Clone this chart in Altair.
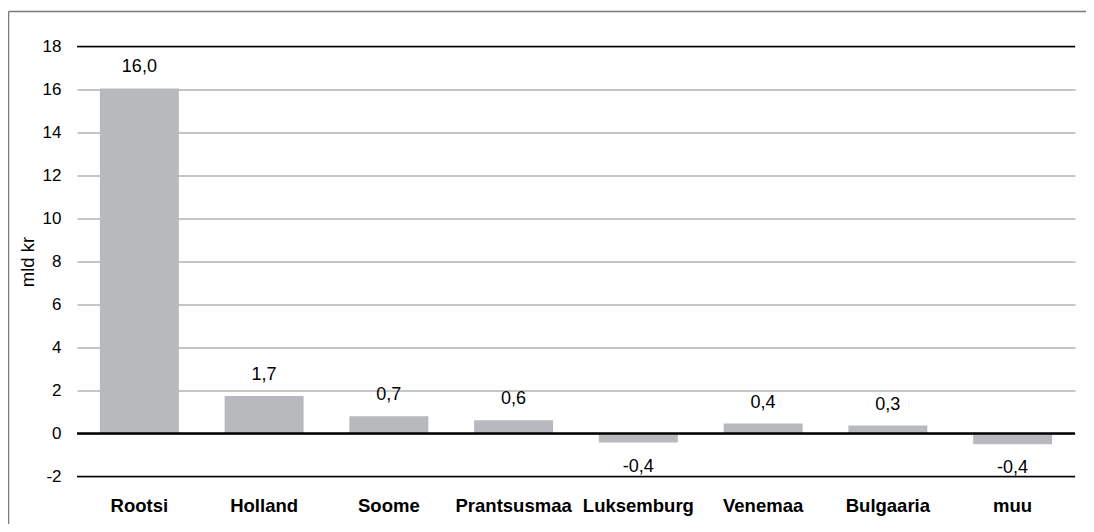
import altair as alt
import pandas as pd

countries = ["Rootsi", "Holland", "Soome", "Prantsusmaa", "Luksemburg", "Venemaa", "Bulgaaria", "muu"]
values = [16.05, 1.75, 0.8, 0.62, -0.42, 0.46, 0.37, -0.5]
labels = ["16,0", "1,7", "0,7", "0,6", "-0,4", "0,4", "0,3", "-0,4"]
y_ticks = [-2, 0, 2, 4, 6, 8, 10, 12, 14, 16, 18]
edge_lines = [-2, 18]
zero_line = [0]

df = pd.DataFrame({"country": countries, "value": values, "label": labels})

FONT = "Liberation Sans"

x_enc = alt.X(
    "country:N",
    sort=countries,
    title=None,
    scale=alt.Scale(paddingInner=0.367, paddingOuter=0.1835),
    axis=alt.Axis(
        orient="bottom",
        domain=False,
        ticks=False,
        labelAngle=0,
        labelFont=FONT,
        labelFontSize=18.5,
        labelFontWeight="bold",
        labelColor="#000000",
        labelPadding=20,
    ),
)
y_scale = alt.Scale(domain=[-2, 18], nice=False, zero=False)

bars = alt.Chart(df).mark_bar(color="#b8b9bc").encode(
    x=x_enc,
    y=alt.Y(
        "value:Q",
        scale=y_scale,
        title="mld kr",
        axis=alt.Axis(
            values=y_ticks,
            domain=False,
            ticks=False,
            grid=True,
            gridColor="#8c8c8c",
            gridWidth=1,
            labelFont=FONT,
            labelFontSize=17,
            labelColor="#000000",
            labelPadding=16,
            labelExpr="datum.value + ''",
            titleFont=FONT,
            titleFontSize=18.5,
            titleFontWeight="normal",
            titleColor="#000000",
            titlePadding=5,
        ),
    ),
)

pos_text = alt.Chart(df).transform_filter("datum.value >= 0").mark_text(
    font=FONT, fontSize=18, color="#000000", baseline="middle", dy=-21
).encode(
    x=alt.X("country:N", sort=countries),
    y=alt.Y("value:Q", scale=y_scale),
    text="label:N",
)

neg_text = alt.Chart(df).transform_filter("datum.value < 0").mark_text(
    font=FONT, fontSize=18, color="#000000", baseline="middle", dy=24
).encode(
    x=alt.X("country:N", sort=countries),
    y=alt.Y("value:Q", scale=y_scale),
    text="label:N",
)

edges = alt.Chart(pd.DataFrame({"v": edge_lines})).mark_rule(color="#000000", strokeWidth=1.3).encode(
    y=alt.Y("v:Q", scale=y_scale)
)
zero = alt.Chart(pd.DataFrame({"v": zero_line})).mark_rule(color="#000000", strokeWidth=2.5).encode(
    y=alt.Y("v:Q", scale=y_scale)
)

frame_top = alt.Chart(pd.DataFrame({"v": [0]})).mark_rule(
    color="#7a7a7a", strokeWidth=1.5, clip=False
).encode(
    x=alt.value(-68.5), x2=alt.value(1060), y=alt.value(-35)
)
frame_left = alt.Chart(pd.DataFrame({"v": [0]})).mark_rule(
    color="#7a7a7a", strokeWidth=1.5, clip=False
).encode(
    x=alt.value(-68.5), y=alt.value(-35), y2=alt.value(540)
)

chart = alt.layer(bars, edges, zero, pos_text, neg_text, frame_top, frame_left).properties(
    width=998,
    height=430,
    padding={"left": 69, "top": 38.5, "right": 11, "bottom": 47},
    autosize=alt.AutoSizeParams(type="none"),
    background="#ffffff",
).configure_view(stroke=None)

chart.save("out.html", embed_options={"renderer": "svg", "actions": False})
